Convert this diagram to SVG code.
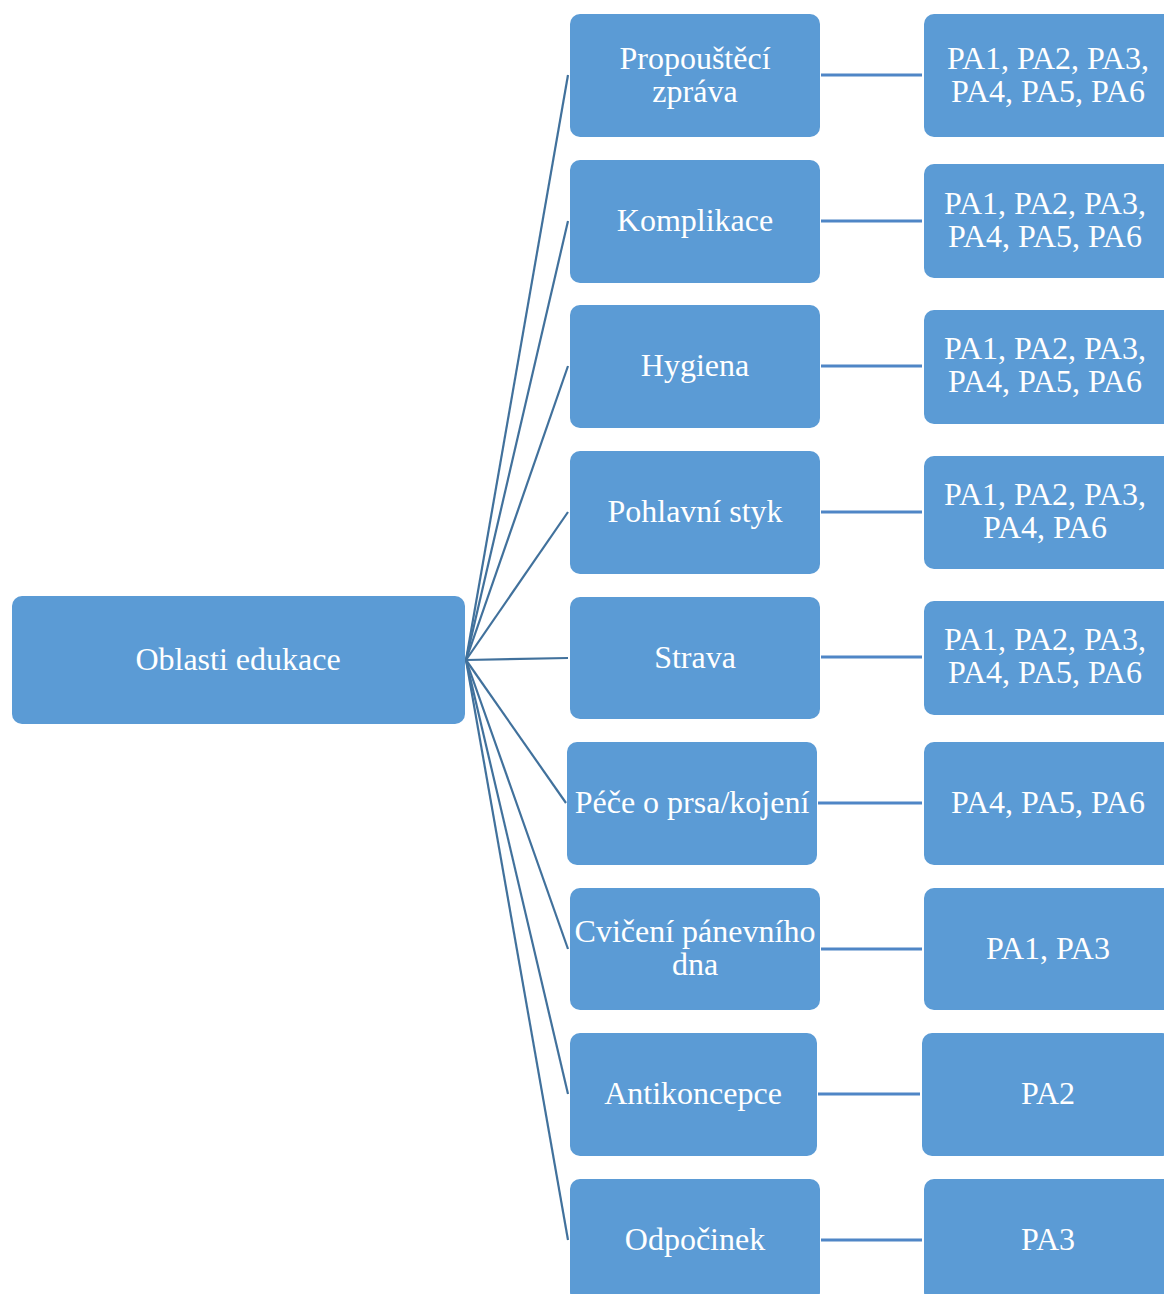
<svg xmlns="http://www.w3.org/2000/svg" width="1164" height="1294" viewBox="0 0 1164 1294">
  <style>
    .box { fill: #5B9BD5; }
    .lbl { fill: #FFFFFF; font-family: 'Liberation Serif', Tinos, 'Times New Roman', 'DejaVu Serif', serif; font-size: 32px; text-anchor: middle; }
    .fan { stroke: #41719C; stroke-width: 2.2; fill: none; }
    .link { stroke: #4F86C6; stroke-width: 3; fill: none; }
  </style>
  <rect width="1164" height="1294" fill="#FFFFFF"/>

  <g id="connectors">
    <line class="fan" x1="466" y1="660" x2="568" y2="75"/>
    <line class="fan" x1="466" y1="660" x2="568" y2="221"/>
    <line class="fan" x1="466" y1="660" x2="568" y2="366"/>
    <line class="fan" x1="466" y1="660" x2="568" y2="512"/>
    <line class="fan" x1="466" y1="660" x2="568" y2="658"/>
    <line class="fan" x1="466" y1="660" x2="566" y2="803"/>
    <line class="fan" x1="466" y1="660" x2="568" y2="949"/>
    <line class="fan" x1="466" y1="660" x2="568" y2="1094"/>
    <line class="fan" x1="466" y1="660" x2="568" y2="1240"/>
    <line class="link" x1="821" y1="75" x2="922" y2="75"/>
    <line class="link" x1="821" y1="221" x2="922" y2="221"/>
    <line class="link" x1="821" y1="366" x2="922" y2="366"/>
    <line class="link" x1="821" y1="512" x2="922" y2="512"/>
    <line class="link" x1="821" y1="657" x2="922" y2="657"/>
    <line class="link" x1="818" y1="803" x2="922" y2="803"/>
    <line class="link" x1="821" y1="949" x2="922" y2="949"/>
    <line class="link" x1="818" y1="1094" x2="920" y2="1094"/>
    <line class="link" x1="821" y1="1240" x2="922" y2="1240"/>
  </g>

  <g font-family="Liberation Serif, serif">
  <g id="root">
    <rect class="box" x="12" y="596" width="453" height="128" rx="10"/>
    <text class="lbl" x="238" y="670">Oblasti edukace</text>
  </g>

  <g id="topic-propousteci">
    <rect class="box" x="570" y="14" width="250" height="123" rx="10"/>
    <text class="lbl" x="695" y="69">Propouštěcí</text>
    <text class="lbl" x="695" y="102">zpráva</text>
  </g>
  <g id="topic-komplikace">
    <rect class="box" x="570" y="160" width="250" height="123" rx="10"/>
    <text class="lbl" x="695" y="231">Komplikace</text>
  </g>
  <g id="topic-hygiena">
    <rect class="box" x="570" y="305" width="250" height="123" rx="10"/>
    <text class="lbl" x="695" y="376">Hygiena</text>
  </g>
  <g id="topic-pohlavni">
    <rect class="box" x="570" y="451" width="250" height="123" rx="10"/>
    <text class="lbl" x="695" y="522">Pohlavní styk</text>
  </g>
  <g id="topic-strava">
    <rect class="box" x="570" y="597" width="250" height="122" rx="10"/>
    <text class="lbl" x="695" y="668">Strava</text>
  </g>
  <g id="topic-pece">
    <rect class="box" x="567" y="742" width="250" height="123" rx="10"/>
    <text class="lbl" x="692" y="813">Péče o prsa/kojení</text>
  </g>
  <g id="topic-cviceni">
    <rect class="box" x="570" y="888" width="250" height="122" rx="10"/>
    <text class="lbl" x="695" y="942">Cvičení pánevního</text>
    <text class="lbl" x="695" y="975">dna</text>
  </g>
  <g id="topic-antikoncepce">
    <rect class="box" x="570" y="1033" width="247" height="123" rx="10"/>
    <text class="lbl" x="693" y="1104">Antikoncepce</text>
  </g>
  <g id="topic-odpocinek">
    <rect class="box" x="570" y="1179" width="250" height="123" rx="10"/>
    <text class="lbl" x="695" y="1250">Odpočinek</text>
  </g>

  <g id="pa-propousteci">
    <rect class="box" x="924" y="14" width="250" height="123" rx="10"/>
    <text class="lbl" x="1048" y="69">PA1, PA2, PA3,</text>
    <text class="lbl" x="1048" y="102">PA4, PA5, PA6</text>
  </g>
  <g id="pa-komplikace">
    <rect class="box" x="924" y="164" width="250" height="114" rx="10"/>
    <text class="lbl" x="1045" y="214">PA1, PA2, PA3,</text>
    <text class="lbl" x="1045" y="247">PA4, PA5, PA6</text>
  </g>
  <g id="pa-hygiena">
    <rect class="box" x="924" y="310" width="250" height="114" rx="10"/>
    <text class="lbl" x="1045" y="359">PA1, PA2, PA3,</text>
    <text class="lbl" x="1045" y="392">PA4, PA5, PA6</text>
  </g>
  <g id="pa-pohlavni">
    <rect class="box" x="924" y="456" width="250" height="113" rx="10"/>
    <text class="lbl" x="1045" y="505">PA1, PA2, PA3,</text>
    <text class="lbl" x="1045" y="538">PA4, PA6</text>
  </g>
  <g id="pa-strava">
    <rect class="box" x="924" y="601" width="250" height="114" rx="10"/>
    <text class="lbl" x="1045" y="650">PA1, PA2, PA3,</text>
    <text class="lbl" x="1045" y="683">PA4, PA5, PA6</text>
  </g>
  <g id="pa-pece">
    <rect class="box" x="924" y="742" width="250" height="123" rx="10"/>
    <text class="lbl" x="1048" y="813">PA4, PA5, PA6</text>
  </g>
  <g id="pa-cviceni">
    <rect class="box" x="924" y="888" width="250" height="122" rx="10"/>
    <text class="lbl" x="1048" y="959">PA1, PA3</text>
  </g>
  <g id="pa-antikoncepce">
    <rect class="box" x="922" y="1033" width="250" height="123" rx="10"/>
    <text class="lbl" x="1048" y="1104">PA2</text>
  </g>
  <g id="pa-odpocinek">
    <rect class="box" x="924" y="1179" width="250" height="123" rx="10"/>
    <text class="lbl" x="1048" y="1250">PA3</text>
  </g>
  </g>
</svg>
